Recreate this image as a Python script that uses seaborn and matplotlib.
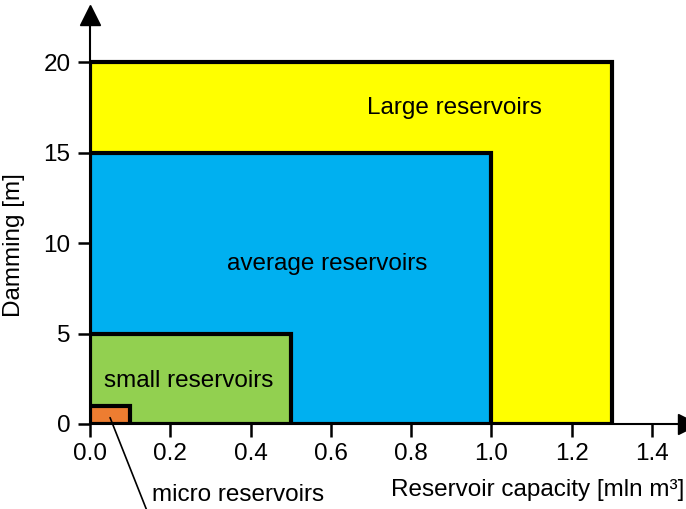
import matplotlib
matplotlib.use("Agg")
import matplotlib.pyplot as plt
import seaborn as sns

# ── Data ────────────────────────────────────────────────
categories = ["Large reservoirs", "average reservoirs", "small reservoirs", "micro reservoirs"]
capacity = [1.3, 1.0, 0.5, 0.1]     # mln m3
damming = [20, 15, 5, 1]            # m
colors = ["#FFFF00", "#00B0F0", "#92D050", "#ED7D31"]
label_pos = [(0.908, 17.45), (0.59, 8.85), (0.245, 2.4), (0.155, -3.9)]

x_ticks = [0.0, 0.2, 0.4, 0.6, 0.8, 1.0, 1.2, 1.4]
y_ticks = [0, 5, 10, 15, 20]

sns.set_style("ticks", {"axes.edgecolor": "black", "text.color": "black",
                        "xtick.color": "black", "ytick.color": "black",
                        "axes.labelcolor": "black"})
plt.rcParams['font.family'] = ['Liberation Sans', 'DejaVu Sans']
FS = 17.5

fig = plt.figure(figsize=(6.86, 5.09), dpi=100)
ax = fig.add_axes([90 / 686, 85 / 509, 598 / 686, 409 / 509])

# ── Nested rectangles, largest first ─────────────────────
for w, h, c in zip(capacity, damming, colors):
    ax.bar(0, h, width=w, align='edge', color=c, edgecolor='black',
           linewidth=3, zorder=2)

# labels inside boxes
for name, (lx, ly) in zip(categories[:3], label_pos[:3]):
    ax.text(lx, ly, name, ha='center', va='center', fontsize=FS, zorder=4)

# micro reservoirs callout
mx, my = label_pos[3]
ax.text(mx, my, categories[3], ha='left', va='center', fontsize=FS,
        clip_on=False)
ax.plot([0.05, 0.142], [0.35, -4.8], color='black', lw=1.2,
        clip_on=False, zorder=5)

# ── Axes styling ─────────────────────────────────────────
ax.set_xlim(0, 1.49)
ax.set_ylim(0, 22.6)
sns.despine(ax=ax)
for s in ['left', 'bottom']:
    ax.spines[s].set_linewidth(1.5)
    ax.spines[s].set_zorder(3)

ax.set_xticks(x_ticks)
ax.set_xticklabels([f"{t:.1f}" for t in x_ticks])
ax.set_yticks(y_ticks)
ax.tick_params(axis='both', length=9, width=1.8, labelsize=FS, pad=5)

# arrow heads
ax.plot(1, 0, '>', color='black', markersize=14, transform=ax.transAxes,
        clip_on=False)
ax.plot(0, 1, '^', color='black', markersize=14, transform=ax.transAxes,
        clip_on=False)

ax.set_ylabel('Damming [m]', fontsize=FS)
ax.yaxis.set_label_coords(-0.109, 0.438)
ax.set_xlabel('Reservoir capacity [mln m³]', fontsize=FS, labelpad=0)
ax.xaxis.set_label_coords(0.748, -0.135)

fig.savefig('out.png', dpi=100)
